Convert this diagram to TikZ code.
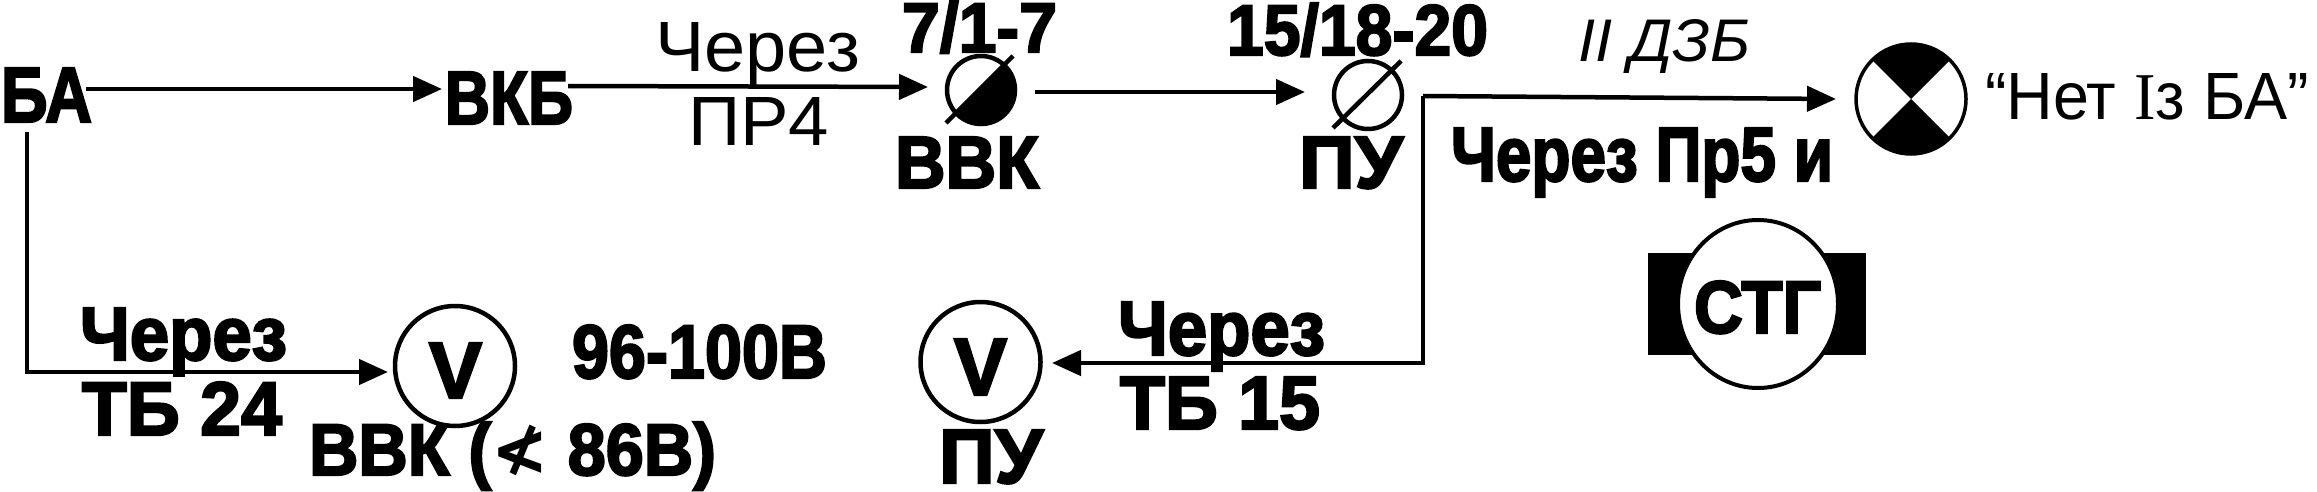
\documentclass[tikz,border=0pt]{standalone}
\usepackage{fontspec}
\setmainfont{Liberation Sans}
\newfontfamily\dv{DejaVu Sans Bold}
\newfontfamily\hb{Liberation Sans Bold}[FakeBold=3]
\newcommand{\BT}[3]{\resizebox{#1pt}{#2pt}{\hb\fontsize{72}{72}\selectfont #3}}
\newcommand{\RT}[3]{\resizebox{#1pt}{#2pt}{\fontsize{72}{72}\selectfont #3}}
\newcommand{\IT}[3]{\resizebox{#1pt}{#2pt}{\fontsize{72}{72}\selectfont\itshape #3}}
\usetikzlibrary{arrows.meta,shapes.geometric}
\tikzset{
 txt/.style={inner sep=0pt,outer sep=0pt,anchor=base west},
 wire/.style={line width=4.5pt,-{Triangle[length=29pt,width=25pt]}},
 plain/.style={line width=4.5pt},
 ring/.style={circle,draw,line width=4.5pt,inner sep=0pt},
}
\begin{document}
\begin{tikzpicture}[x=1pt,y=-1pt]
\useasboundingbox (0,0) rectangle (2317,492);
% top row
\node[txt] (ba) at (1,122) {\BT{91}{54}{БА}};
\node[txt] (vkb) at (445,124) {\BT{128}{52}{ВКБ}};
\coordinate (a1) at (86,89);
\coordinate (a2) at (442,89);
\draw[wire] (a1) -- (a2);
\coordinate (b1) at (568,86);
\coordinate (b2) at (928,87);
\draw[wire] (b1) -- (b2);
\node[txt] (via1) at (655,72) {\RT{205}{49}{Через}};
\node[txt] (pr4) at (688,146) {\RT{141}{48}{ПР4}};
\node[txt] (n1) at (902,52) {\BT{155}{51}{7/1-7}};
\node[txt] (n2) at (1227,55) {\BT{261}{52}{15/18-20}};
\coordinate (c1) at (981,90);
\fill (c1) ++(-45:34) arc (-45:135:34) -- cycle;
\draw[line width=4.5pt] (c1) circle (34);
\coordinate (s1) at (946,123);
\coordinate (s2) at (1013,56);
\draw[line width=4.5pt] (s1) -- (s2);
\node[txt] (vvk) at (895,188) {\BT{144}{51}{ВВК}};
\coordinate (d1) at (1035,92);
\coordinate (d2) at (1305,92);
\draw[wire] (d1) -- (d2);
\node[ring,minimum size=68pt] (pu) at (1368,95) {};
\coordinate (s3) at (1333,128);
\coordinate (s4) at (1401,61);
\draw[line width=4.5pt] (s3) -- (s4);
\node[txt] (putx) at (1299,188) {\BT{104}{51}{ПУ}};
\coordinate (corner) at (1423,96);
\coordinate (low) at (1423,363);
\coordinate (tip) at (1836,99);
\draw[wire] (corner) -- (tip);
\draw[wire] (corner) -- (low) -- (1052,363);
\node[txt] (dzb) at (1578,62) {\IT{172}{42}{II ДЗБ}};
\coordinate (c2) at (1911,99);
\fill (c2) -- ++(45:55) arc (45:135:55) -- cycle;
\fill (c2) -- ++(225:55) arc (225:315:55) -- cycle;
\draw[line width=3.5pt] (c2) circle (55);
\node[txt] (net) at (1985,119) {\RT{324}{46}{“Нет {\fontspec{Liberation Serif}I}з БА”}};
\node[txt] (pr5) at (1451,181) {\BT{382}{53}{Через Пр5 и}};
% STG
\fill (1648,253) rectangle (1866,355);
\node[ellipse,draw,line width=4pt,fill=white,minimum width=160pt,minimum height=168pt,inner sep=0pt] (stg) at (1758,304) {};
\node[txt] (stgt) at (1694,333) {\BT{127}{52}{СТГ}};
% lower left
\coordinate (v1) at (27,132);
\coordinate (v2) at (27,374);
\draw[plain] (v1) -- (v2);
\coordinate (e1) at (28,372);
\coordinate (e2) at (388,372);
\draw[wire] (e1) -- (e2);
\node[ring,minimum size=120pt] (vm1) at (455,366) {};
\node[txt] (v1t) at (429,398) {\BT{53}{55}{V}};
\node[txt] (via2) at (80,360) {\BT{207}{52}{Через}};
\node[txt] (tb24) at (82,435) {\BT{200}{53}{ТБ 24}};
\node[txt] (u1) at (572,378) {\BT{255}{53}{96-100В}};
\node[txt] (vvk2) at (309,475) {\BT{407}{53}{ВВК ({\dv ≮} 86В)}};
% lower middle
\node[ring,minimum size=120pt] (vm2) at (980.5,362) {};
\node[txt] (v2t) at (954,395) {\BT{53}{56}{V}};
\node[txt] (put2) at (939,483) {\BT{104}{53}{ПУ}};
\node[txt] (via3) at (1118,355) {\BT{207}{53}{Через}};
\node[txt] (tb15) at (1120,429) {\BT{200}{52}{ТБ 15}};
\end{tikzpicture}
\end{document}
